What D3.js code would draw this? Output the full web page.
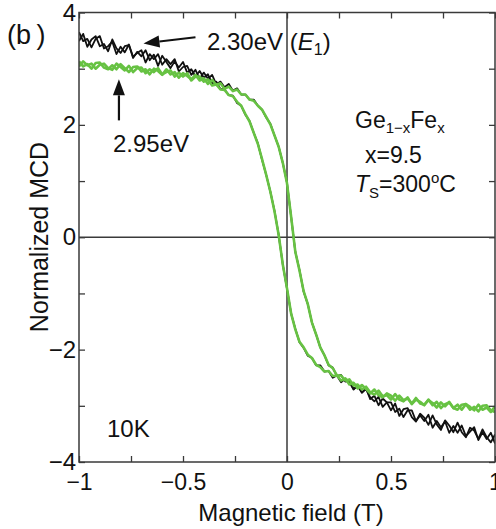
<!DOCTYPE html>
<html><head><meta charset="utf-8">
<script src="https://cdn.jsdelivr.net/npm/d3@7"></script>
<style>
html,body{margin:0;padding:0;background:#fff;}
svg{display:block;font-family:"Liberation Sans",Arial,Helvetica,sans-serif;}
</style></head>
<body>
<svg id="chart" width="496" height="529"></svg>
<script>
// Magnetic field (T), sampled grid
const field = [-1.00,-0.98,-0.96,-0.94,-0.92,-0.90,-0.88,-0.86,-0.84,-0.82,
-0.80,-0.78,-0.76,-0.74,-0.72,-0.70,-0.68,-0.66,-0.64,-0.62,
-0.60,-0.58,-0.56,-0.54,-0.52,-0.50,-0.48,-0.46,-0.44,-0.42,
-0.40,-0.38,-0.36,-0.34,-0.32,-0.30,-0.28,-0.26,-0.24,-0.22,
-0.20,-0.18,-0.16,-0.14,-0.12,-0.10,-0.08,-0.06,-0.04,-0.02,
0.00,
0.02,0.04,0.06,0.08,0.10,0.12,0.14,0.16,0.18,0.20,
0.22,0.24,0.26,0.28,0.30,0.32,0.34,0.36,0.38,0.40,
0.42,0.44,0.46,0.48,0.50,0.52,0.54,0.56,0.58,0.60,
0.62,0.64,0.66,0.68,0.70,0.72,0.74,0.76,0.78,0.80,
0.82,0.84,0.86,0.88,0.90,0.92,0.94,0.96,0.98,1.00];

// 2.30 eV (E1), black: field-up sweep and field-down sweep
const black_up = [3.65,3.49,3.53,3.38,3.53,3.58,3.36,3.40,3.48,3.26,
3.39,3.29,3.43,3.21,3.28,3.33,3.11,3.26,3.17,3.26,
3.07,3.17,3.08,3.17,2.95,3.03,3.05,2.89,2.98,2.82,
2.93,2.82,2.89,2.72,2.77,2.67,2.73,2.61,2.65,2.54,
2.54,2.45,2.45,2.34,2.27,2.13,2.02,1.81,1.61,1.32,
0.97,
0.36,-0.26,-0.58,-0.97,-1.19,-1.52,-1.73,-1.96,-2.10,-2.28,
-2.32,-2.47,-2.45,-2.57,-2.56,-2.70,-2.65,-2.77,-2.70,-2.85,
-2.92,-2.84,-3.02,-2.94,-2.94,-3.11,-3.05,-3.20,-3.08,-3.08,
-3.27,-3.17,-3.27,-3.16,-3.39,-3.27,-3.38,-3.28,-3.48,-3.36,
-3.48,-3.35,-3.54,-3.46,-3.38,-3.61,-3.47,-3.59,-3.48,-3.67];
const black_down = [3.49,3.62,3.39,3.52,3.58,3.40,3.44,3.31,3.52,3.36,
3.28,3.40,3.42,3.19,3.30,3.22,3.33,3.15,3.25,3.05,
3.23,3.12,3.01,3.13,3.02,3.12,2.93,2.99,2.86,2.96,
2.84,2.90,2.74,2.77,2.64,2.63,2.53,2.52,2.39,2.34,
2.18,2.07,1.86,1.67,1.38,1.11,0.81,0.47,0.04,-0.49,
-0.92,
-1.36,-1.63,-1.87,-1.97,-2.11,-2.15,-2.28,-2.28,-2.39,-2.38,
-2.50,-2.46,-2.58,-2.52,-2.58,-2.71,-2.63,-2.76,-2.69,-2.88,
-2.82,-2.99,-2.87,-2.94,-3.08,-2.96,-3.18,-3.06,-3.04,-3.20,
-3.28,-3.14,-3.21,-3.34,-3.17,-3.33,-3.43,-3.26,-3.35,-3.47,
-3.30,-3.47,-3.56,-3.39,-3.44,-3.59,-3.42,-3.56,-3.65,-3.51];

// 2.95 eV, green
const green_up = [3.13,3.04,3.08,3.00,3.10,3.11,3.02,2.99,3.06,2.99,
3.08,3.01,2.94,3.03,3.04,2.95,2.99,2.90,3.00,2.96,
2.89,2.99,2.90,2.94,2.84,2.92,2.87,2.81,2.89,2.79,
2.83,2.73,2.80,2.71,2.74,2.64,2.68,2.60,2.63,2.54,
2.54,2.45,2.43,2.34,2.27,2.14,2.01,1.81,1.61,1.32,
0.96,
0.36,-0.26,-0.59,-0.96,-1.19,-1.52,-1.73,-1.96,-2.10,-2.27,
-2.33,-2.46,-2.46,-2.55,-2.53,-2.64,-2.62,-2.71,-2.66,-2.76,
-2.80,-2.73,-2.83,-2.81,-2.89,-2.79,-2.89,-2.92,-2.85,-2.97,
-2.89,-2.93,-2.99,-2.89,-2.99,-2.93,-3.04,-2.97,-2.94,-3.04,
-3.07,-2.98,-2.97,-3.07,-3.02,-3.10,-3.00,-2.99,-3.08,-3.11];
const green_down = [3.04,3.13,3.06,3.09,3.00,3.07,3.09,3.01,2.98,3.09,
3.03,2.97,3.05,2.94,3.01,3.02,2.92,2.99,2.94,3.01,
2.90,2.94,2.97,2.86,2.93,2.86,2.92,2.79,2.86,2.86,
2.77,2.81,2.70,2.72,2.63,2.62,2.53,2.51,2.41,2.34,
2.19,2.06,1.86,1.66,1.39,1.11,0.81,0.46,0.04,-0.49,
-0.91,
-1.36,-1.64,-1.86,-1.96,-2.09,-2.15,-2.27,-2.31,-2.39,-2.38,
-2.47,-2.46,-2.55,-2.51,-2.62,-2.59,-2.69,-2.63,-2.70,-2.78,
-2.71,-2.81,-2.85,-2.78,-2.82,-2.91,-2.82,-2.90,-2.87,-2.96,
-2.86,-2.96,-2.98,-2.90,-2.95,-3.03,-2.94,-3.01,-2.93,-3.04,
-2.98,-3.07,-2.97,-3.02,-3.08,-2.98,-3.07,-3.03,-3.11,-3.01];

const xTicks = [-1,-0.75,-0.5,-0.25,0,0.25,0.5,0.75,1];
const xLabels = [-1,-0.5,0,0.5,1];
const yTicks = [-4,-3,-2,-1,0,1,2,3,4];
const yLabels = [-4,-2,0,2,4];

const svg = d3.select("#chart");
const L = 79, R = 495, T = 12.5, B = 462;
const x = d3.scaleLinear().domain([-1,1]).range([L,R]);
const y = d3.scaleLinear().domain([-4,4]).range([B,T]);
const axisCol = "#3a3a3a";

const fmt = v => (v<0?"\u2212":"") + Math.abs(v);

svg.append("defs").append("clipPath").attr("id","clip")
  .append("rect").attr("x",L).attr("y",T).attr("width",R-L).attr("height",B-T);

// zero lines
svg.append("line").attr("x1",L).attr("x2",R).attr("y1",y(0)).attr("y2",y(0))
  .attr("stroke",axisCol).attr("stroke-width",1.5);
svg.append("line").attr("x1",x(0)).attr("x2",x(0)).attr("y1",T).attr("y2",B)
  .attr("stroke",axisCol).attr("stroke-width",1.5);

// curves
const line = d3.line().x((d,i)=>x(field[i])).y(d=>y(d));
const g = svg.append("g").attr("clip-path","url(#clip)");
[[black_up,"#111",1.8],[black_down,"#111",1.8],[green_up,"#67c243",2.6],[green_down,"#67c243",2.6]]
.forEach(([arr,col,w])=>{
  g.append("path").datum(arr).attr("d",line).attr("fill","none")
   .attr("stroke",col).attr("stroke-width",w).attr("stroke-linejoin","round");
});

// axes
function styleAxis(sel){
  sel.select(".domain").remove();
  sel.selectAll(".tick line").attr("stroke",axisCol).attr("stroke-width",1.3);
  sel.selectAll("text").attr("fill","#111").attr("font-family",'"Liberation Sans",Arial,sans-serif');
}
const xb = svg.append("g").attr("transform",`translate(0,${B})`)
  .call(d3.axisBottom(x).tickValues(xTicks).tickSize(-6).tickPadding(12)
  .tickFormat(v => xLabels.includes(v) ? fmt(v) : ""));
styleAxis(xb); xb.selectAll("text").attr("font-size",23);
const xt = svg.append("g").attr("transform",`translate(0,${T})`)
  .call(d3.axisTop(x).tickValues(xTicks).tickSize(-6).tickFormat(""));
styleAxis(xt);
const yl = svg.append("g").attr("transform",`translate(${L},0)`)
  .call(d3.axisLeft(y).tickValues(yTicks).tickSize(-6).tickPadding(3)
  .tickFormat(v => yLabels.includes(v) ? fmt(v) : ""));
styleAxis(yl); yl.selectAll("text").attr("font-size",24);
const yr = svg.append("g").attr("transform",`translate(${R},0)`)
  .call(d3.axisRight(y).tickValues(yTicks).tickSize(-6).tickFormat(""));
styleAxis(yr);

// frame
svg.append("rect").attr("x",L).attr("y",T).attr("width",R-L).attr("height",B-T)
  .attr("fill","none").attr("stroke",axisCol).attr("stroke-width",1.5);

// axis titles
svg.append("text").attr("x",291).attr("y",521).attr("text-anchor","middle")
  .attr("font-size",24).attr("fill","#111").text("Magnetic field (T)");
svg.append("text").attr("transform","translate(48,237) rotate(-90)").attr("text-anchor","middle")
  .attr("font-size",25).attr("fill","#111").text("Normalized MCD");

// panel label
svg.append("text").attr("x",7).attr("y",44).attr("font-size",27).attr("fill","#111")
  .text("(b\u2009)");

// annotations
const ann = svg.append("g").attr("fill","#111").attr("font-size",24);
const t1 = ann.append("text").attr("x",207).attr("y",50);
t1.append("tspan").text("2.30eV (");
t1.append("tspan").attr("font-style","italic").text("E");
t1.append("tspan").attr("font-size",16).attr("dy",5).text("1");
t1.append("tspan").attr("dy",-5).text(")");
ann.append("text").attr("x",113).attr("y",152).text("2.95eV");
ann.append("text").attr("x",107).attr("y",437).text("10K");

const t2 = ann.append("text").attr("x",355).attr("y",128).attr("font-size",23);
t2.append("tspan").text("Ge");
t2.append("tspan").attr("font-size",15).attr("dy",5).text("1\u2212x");
t2.append("tspan").attr("dy",-5).text("Fe");
t2.append("tspan").attr("font-size",15).attr("dy",5).text("x");
ann.append("text").attr("x",365).attr("y",163).attr("font-size",23).text("x=9.5");
const t3 = ann.append("text").attr("x",355).attr("y",192).attr("font-size",23);
t3.append("tspan").attr("font-style","italic").text("T");
t3.append("tspan").attr("font-size",15).attr("dy",6).text("S");
t3.append("tspan").attr("dy",-6).text("=300");
t3.append("tspan").attr("font-size",15).attr("dy",-9).text("o");
t3.append("tspan").attr("dy",9).text("C");

// arrows (data coordinates)
function arrow(x0,y0,x1,y1){
  const X0=x(x0),Y0=y(y0),X1=x(x1),Y1=y(y1);
  const ang=Math.atan2(Y1-Y0,X1-X0), hl=16, hw=6;
  const bx=X1-hl*Math.cos(ang), by=Y1-hl*Math.sin(ang);
  svg.append("line").attr("x1",X0).attr("y1",Y0).attr("x2",bx).attr("y2",by)
    .attr("stroke","#111").attr("stroke-width",2.2);
  svg.append("path").attr("fill","#111")
    .attr("d",`M${X1},${Y1}L${bx+hw*Math.sin(ang)},${by-hw*Math.cos(ang)}L${bx-hw*Math.sin(ang)},${by+hw*Math.cos(ang)}Z`);
}
arrow(-0.44,3.56,-0.69,3.45);
arrow(-0.808,2.08,-0.808,2.81);
</script>
</body></html>
